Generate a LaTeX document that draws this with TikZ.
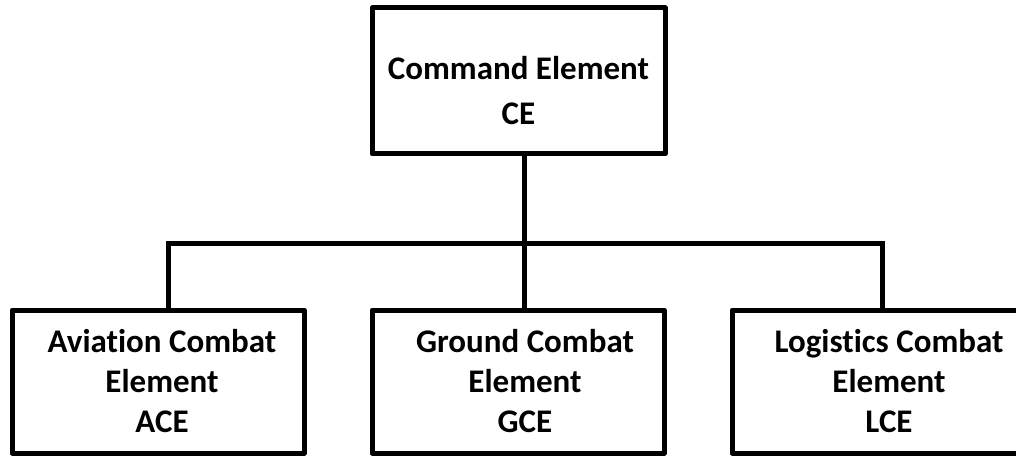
\documentclass[tikz,border=0pt]{standalone}
\usepackage{fontspec}
\setmainfont{Carlito}[Ligatures={NoCommon}]
\begin{document}
\begin{tikzpicture}[x=1pt,y=1pt,
  box/.style={draw=black, line width=5pt, rectangle, minimum width=292pt, inner sep=0pt, line join=round},
  topbox/.style={box, minimum width=293pt, minimum height=146pt},
  botbox/.style={box, minimum height=143pt},
  toptext/.style={align=center, font=\bfseries\fontsize{33}{45}\selectfont},
  bottext/.style={align=center, font=\bfseries\fontsize{33}{40}\selectfont},
  link/.style={draw=black, line width=5pt, line cap=rect}]
\useasboundingbox (0,0) rectangle (1016,-457);
\node[topbox, label={[toptext, yshift=-10pt]center:{Command Element\\CE}}] (ce) at (518.5,-81) {};
\node[botbox, label={[bottext, xshift=4pt]center:{Aviation Combat\\Element\\ACE}}] (ace) at (158,-381.5) {};
\node[botbox, label={[bottext, xshift=7pt]center:{Ground Combat\\Element\\GCE}}] (gce) at (518,-381.5) {};
\node[botbox, label={[bottext, xshift=11pt]center:{Logistics Combat\\Element\\LCE}}] (lce) at (878,-381.5) {};
\coordinate (bus) at (524,-243);
\draw[link] ([xshift=5.5pt]ce.south) -- (bus);
\draw[link] ([xshift=10pt]ace.north) |- (bus) -| ([xshift=4pt]lce.north);
\draw[link] (bus) -- ([xshift=6pt]gce.north);
\end{tikzpicture}
\end{document}
